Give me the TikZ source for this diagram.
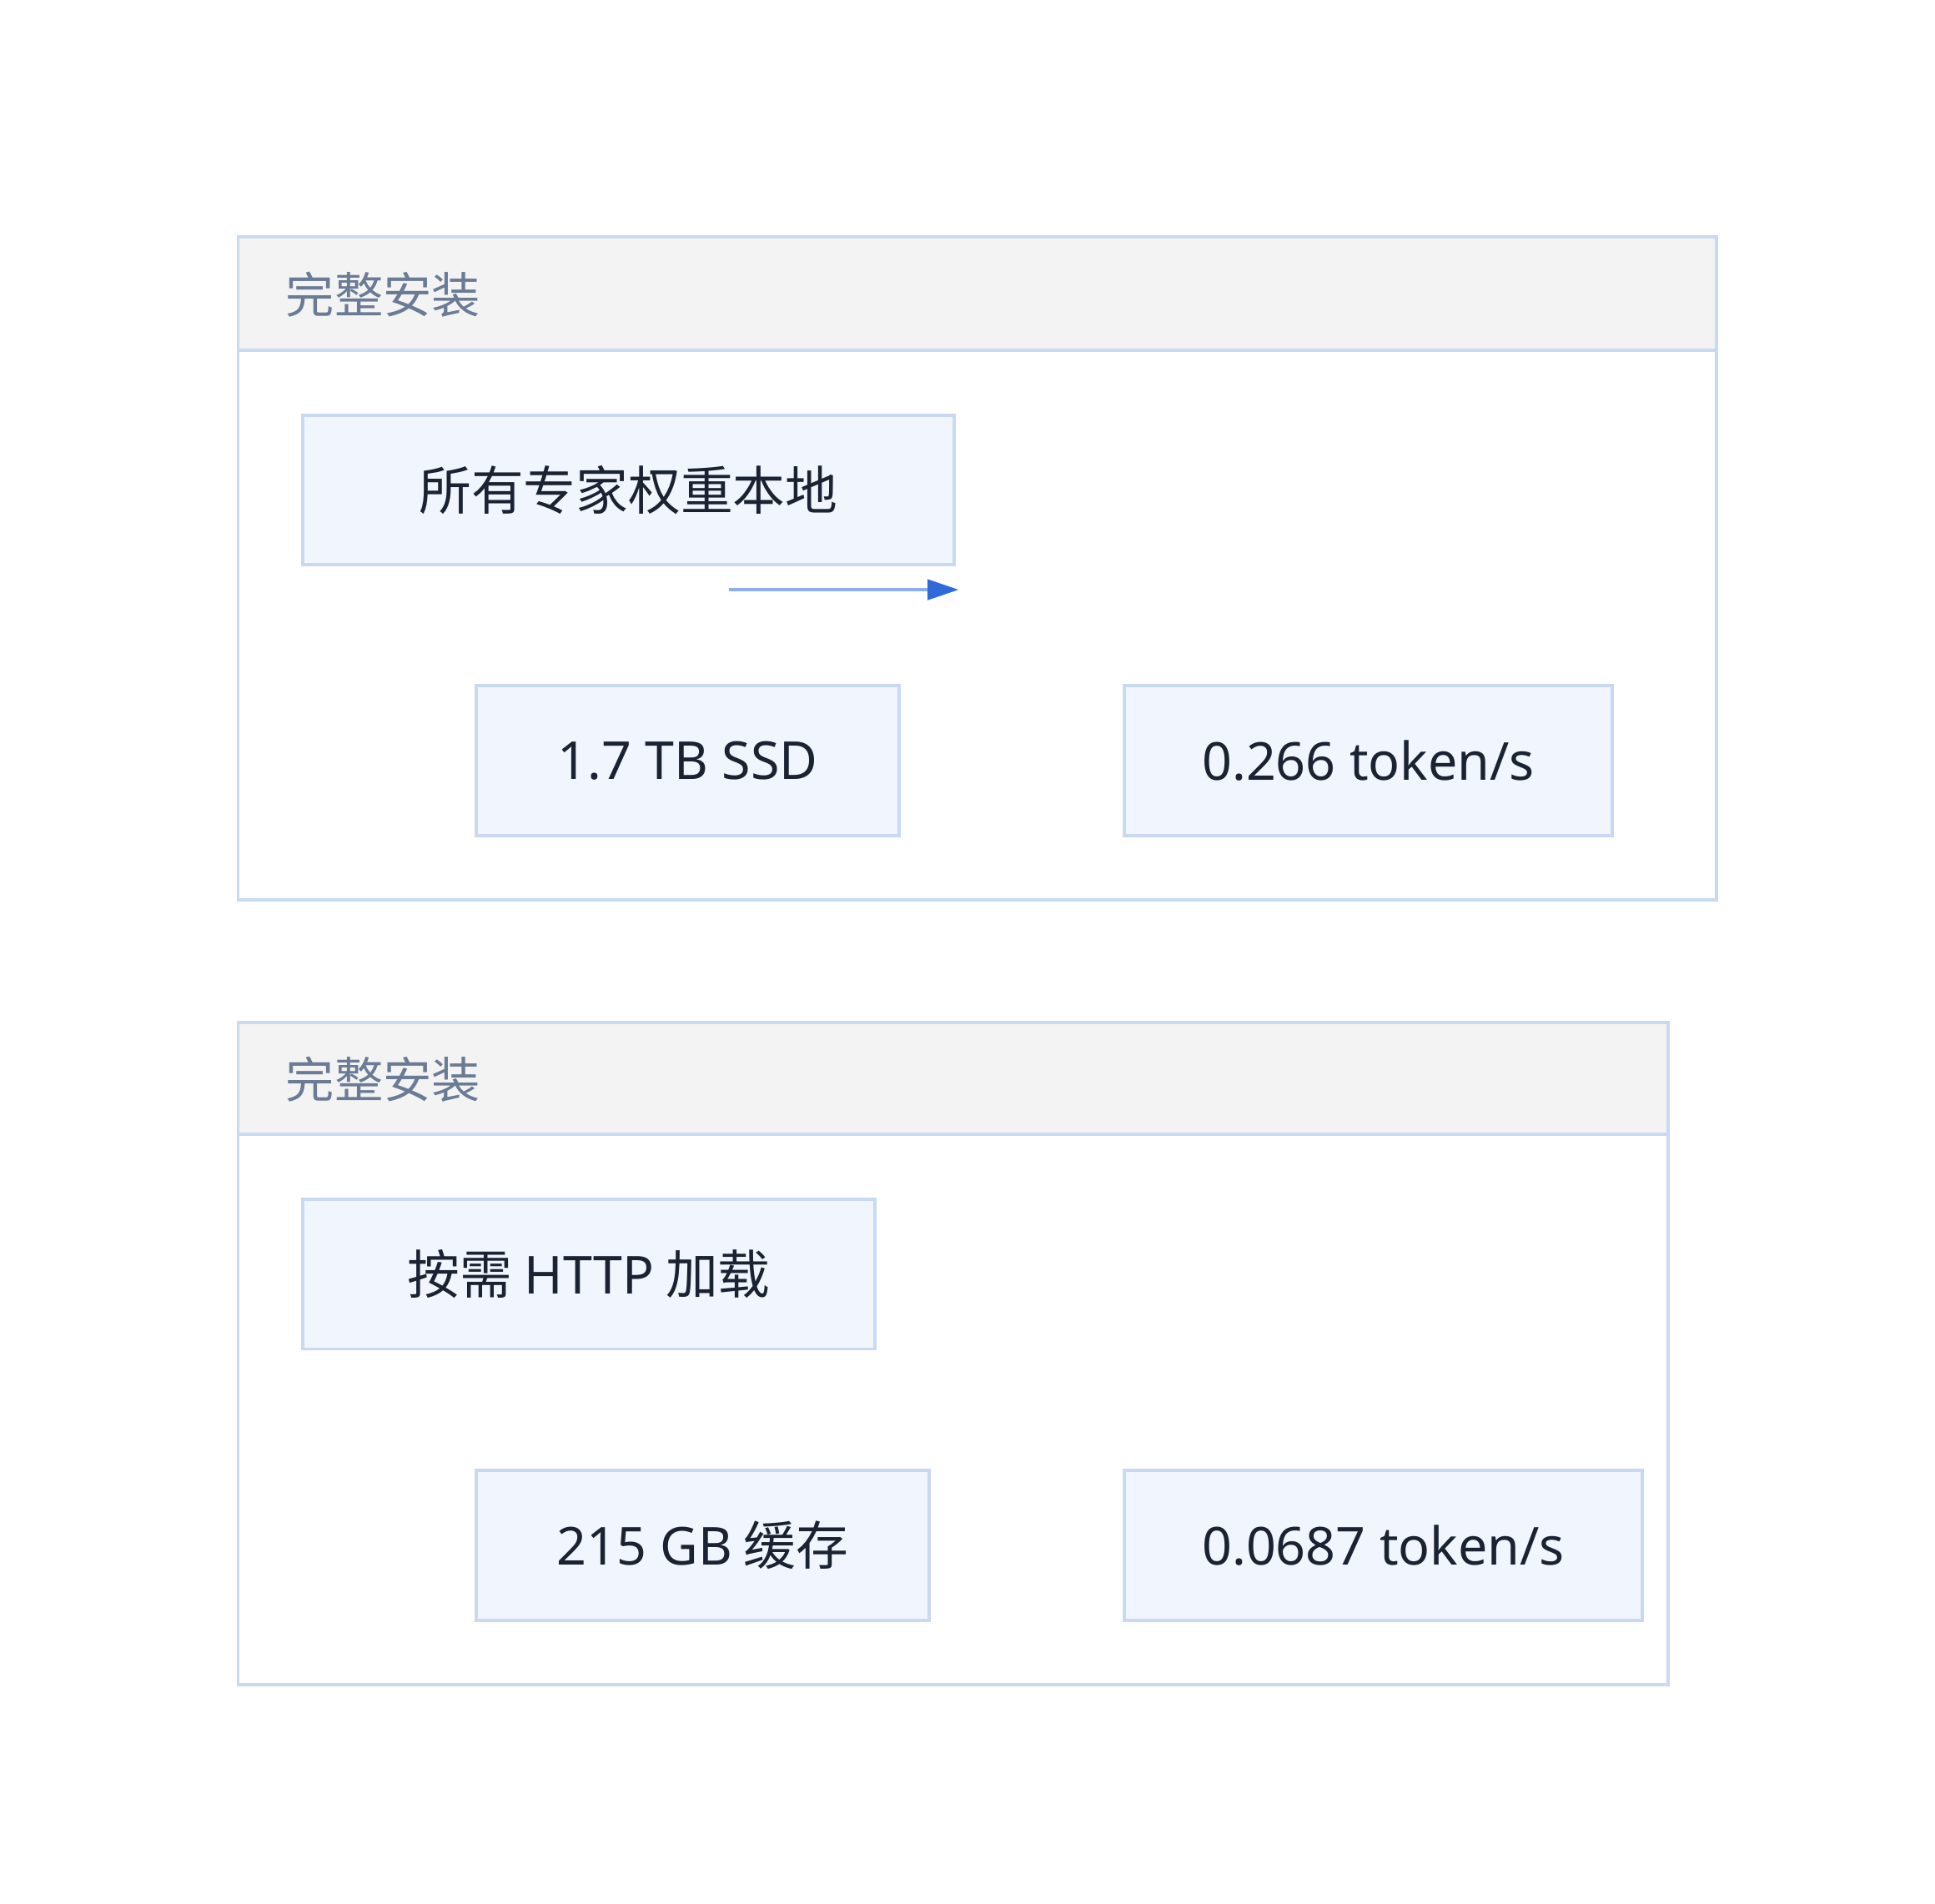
\documentclass[tikz,border=0pt]{standalone}
\usepackage{fontspec}
\setmainfont{Noto Sans CJK SC}
\newfontfamily\latinfont{Noto Sans}
\newcommand\lat[1]{{\latinfont #1}}
\usepackage{tikz}
\usetikzlibrary{arrows.meta}

\definecolor{edgeblue}{HTML}{C9D9F2}
\definecolor{boxfill}{HTML}{F1F6FE}
\definecolor{headfill}{HTML}{F3F3F3}
\definecolor{titlegray}{HTML}{6B7B95}
\definecolor{inkdark}{HTML}{1B2333}
\definecolor{linkline}{HTML}{8CADEE}
\definecolor{linkhead}{HTML}{2F6BD8}

\tikzset{
  stage/.style={draw=edgeblue,line width=1.3pt,fill=white},
  stagehead/.style={draw=edgeblue,line width=1.3pt,fill=headfill},
  stagetitle/.style={anchor=west,text=titlegray,font=\fontsize{19.5}{23}\selectfont,inner sep=0pt},
  item/.style={draw=edgeblue,line width=1.3pt,fill=boxfill,text=inkdark,
    font=\fontsize{21}{25}\selectfont,minimum height=60pt,inner sep=0pt,outer sep=0pt},
  link/.style={draw=linkline,line width=1.5pt,
    -{Triangle[length=12.5pt,width=8pt,color=linkhead]}}
}

\begin{document}
\begin{tikzpicture}[x=0.5pt,y=-0.5pt]
\useasboundingbox (0,0) rectangle (1552,1527);
% first group
\draw[stage] (191,190) rectangle (1377,722);
\draw[stagehead] (191,190) rectangle (1377,281);
\node[stagetitle] (full1) at (229,236) {完整安装};
\node[item,minimum width=261pt] (weights) at (504,393) {所有专家权重本地};
\node[item,minimum width=169.5pt] (ssd) at (551.5,610) {\lat{1.7 TB SSD}};
\node[item,minimum width=195.5pt] (speed1) at (1097.5,610) {\lat{0.266 token/s}};
\coordinate (l1) at (585,473);
\coordinate (r1) at (769,473);
\draw[link] (l1) -- (r1);
% second group
\draw[stage] (191,820) rectangle (1338,1351);
\draw[stagehead] (191,820) rectangle (1338,910);
\node[stagetitle] (full2) at (229,866) {完整安装};
\node[item,minimum width=229.5pt] (http) at (472.5,1022) {按需 \lat{HTTP} 加载};
\node[item,minimum width=181.5pt] (cache) at (563.5,1239.5) {\lat{215 GB} 缓存};
\node[item,minimum width=207.5pt] (speed2) at (1109.5,1239.5) {\lat{0.0687 token/s}};
\end{tikzpicture}
\end{document}
